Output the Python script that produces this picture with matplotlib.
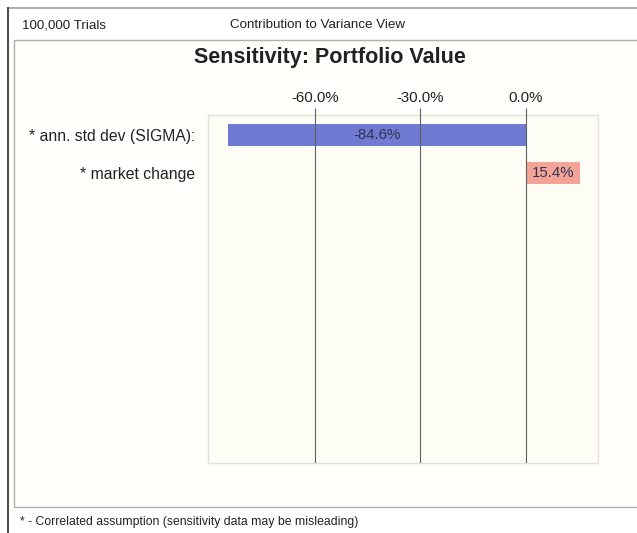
import matplotlib.pyplot as plt
from matplotlib.patches import Rectangle
from matplotlib.lines import Line2D

# data
categories = ["* ann. std dev (SIGMA):", "* market change"]
contributions = [-84.6, 15.4]
bar_colors = ["#6f7bd2", "#f3a497"]
tick_values = [-60, -30, 0]

plt.rcParams['font.family'] = ['Liberation Sans', 'DejaVu Sans']

fig = plt.figure(figsize=(6.37, 5.33), dpi=100)
fig.patch.set_facecolor("white")
W, H = 637, 533

# window frame
fig.add_artist(Line2D([8 / W, 1], [1 - 8 / H, 1 - 8 / H], color="#a0a0a0", lw=1.2, zorder=-2))
fig.add_artist(Line2D([8 / W, 8 / W], [0, 1 - 8 / H], color="#505050", lw=1.5, zorder=-2))
fig.add_artist(Rectangle((14 / W, 1 - 507 / H), 1 - 14 / W + 0.01, (507 - 40) / H,
                         facecolor="#fffffb", edgecolor="#b0b0a8", lw=1.0, zorder=-1))

fig.text(22 / W, 1 - 25 / H, "100,000 Trials", fontsize=9.6, va="center", color="#222222")
fig.text(230 / W, 1 - 25 / H, "Contribution to Variance View", fontsize=9.6, va="center", color="#222222")
fig.text(330 / W, 1 - 58 / H, "Sensitivity: Portfolio Value", fontsize=15.5, fontweight="semibold",
         ha="center", va="center", color="#222222")
fig.text(20 / W, 1 - 522 / H, "* - Correlated assumption (sensitivity data may be misleading)",
         fontsize=8.8, va="center", color="#222222")

# plot area
ax = fig.add_axes([208 / W, 1 - 463 / H, 390 / W, 348 / H], zorder=2)
ax.set_facecolor("#fdfdf6")
y = list(range(len(categories)))
ax.barh(y, contributions, height=0.58, color=bar_colors, zorder=1)
for yi, v in zip(y, contributions):
    ax.text(v / 2, yi, f"{v:.1f}%", ha="center", va="center", fontsize=10.8,
            color="#333355", zorder=3)

ax.set_xlim(-90.4, 20.5)
ax.set_ylim(8.63, -0.526)
ax.set_xticks(tick_values)
ax.set_xticklabels([f"{t:.1f}%" for t in tick_values], fontsize=10.8, color="#222222")
ax.xaxis.tick_top()
ax.tick_params(axis="x", direction="out", length=5, width=0.8, color="#606060", pad=2)
ax.grid(axis="x", color="#606060", lw=0.8, zorder=2)
ax.set_axisbelow(False)
ax.set_yticks(y)
ax.set_yticklabels(categories, fontsize=11.3, color="#222222")
ax.tick_params(axis="y", length=0, pad=9)
for s in ax.spines.values():
    s.set_color("#e2e2d8")
    s.set_linewidth(1.0)

fig.savefig("out.png", dpi=100)
